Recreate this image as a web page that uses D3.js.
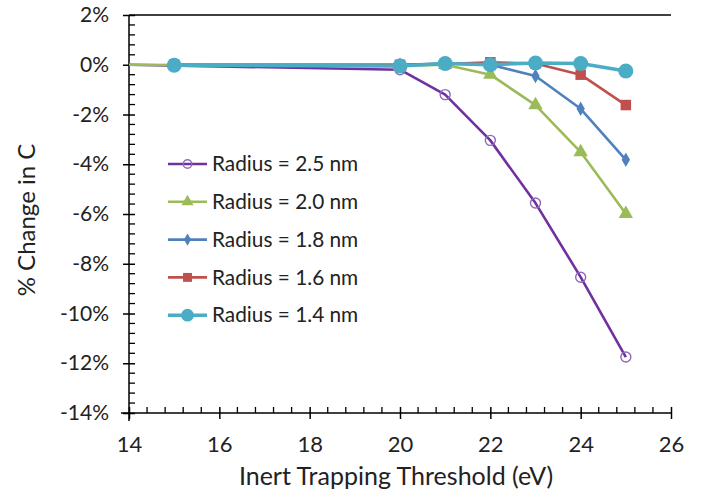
<!DOCTYPE html>
<html>
<head>
<meta charset="utf-8">
<script src="https://cdn.jsdelivr.net/npm/d3@7"></script>
<style>
  html, body { margin: 0; padding: 0; background: #fff; }
  svg text { font-family: Lato, "Open Sans", sans-serif; fill: #222; }
</style>
</head>
<body>
<svg id="chart" width="709" height="495"></svg>
<script>
// Inert trapping threshold (eV) for each series
const xWide   = [14, 20, 21, 22, 23, 24, 25];
const xNarrow = [15, 20, 21, 22, 23, 24, 25];

// % change in C for each cluster radius
const r25 = [0.00, -0.20, -1.20, -3.04, -5.56, -8.54, -11.75];
const r20 = [0.00, -0.05, 0.00, -0.40, -1.62, -3.51, -5.99];
const r18 = [0.00, 0.00, 0.05, 0.00, -0.45, -1.77, -3.82];
const r16 = [0.00, 0.00, 0.03, 0.10, 0.05, -0.40, -1.62];
const r14 = [-0.02, -0.05, 0.05, 0.00, 0.07, 0.05, -0.25];

const seriesNames = ["Radius = 2.5 nm", "Radius = 2.0 nm", "Radius = 1.8 nm", "Radius = 1.6 nm", "Radius = 1.4 nm"];

const xTicks = [14, 16, 18, 20, 22, 24, 26];
const yTicks = [2, 0, -2, -4, -6, -8, -10, -12, -14];

const series = [
  { name: seriesNames[0], xs: xWide,   ys: r25, color: "#7030A0", mark: "#8B6BB8", shape: "ring",     width: 2.6 },
  { name: seriesNames[1], xs: xWide,   ys: r20, color: "#9BBB59", mark: "#9BBB59", shape: "triangle", width: 2.6 },
  { name: seriesNames[2], xs: xNarrow, ys: r18, color: "#4F81BD", mark: "#4F81BD", shape: "diamond",  width: 2.6 },
  { name: seriesNames[3], xs: xNarrow, ys: r16, color: "#C0504D", mark: "#C0504D", shape: "square",   width: 2.6 },
  { name: seriesNames[4], xs: xNarrow, ys: r14, color: "#4BACC6", mark: "#4BACC6", shape: "dot",      width: 3.6 }
];

const svg = d3.select("#chart");
const plot = { left: 129, right: 671, top: 15, bottom: 413 };

const x = d3.scaleLinear().domain([14, 26]).range([plot.left, plot.right]);
const y = d3.scaleLinear().domain([-14, 2]).range([plot.bottom, plot.top]);

// top border of the plot area
svg.append("line")
  .attr("x1", plot.left).attr("x2", plot.right)
  .attr("y1", plot.top).attr("y2", plot.top)
  .attr("stroke", "#000").attr("stroke-width", 1.5);

// minor ticks (inside)
const xMinor = d3.range(14, 26.001, 0.4).filter(v => Math.abs(v / 2 - Math.round(v / 2)) > 0.01);
svg.append("g").selectAll("line").data(xMinor).join("line")
  .attr("x1", d => x(d)).attr("x2", d => x(d))
  .attr("y1", plot.bottom).attr("y2", plot.bottom - 6)
  .attr("stroke", "#000").attr("stroke-width", 1.3);

const yMinor = d3.range(-14, 2.001, 0.4).filter(v => Math.abs(v / 2 - Math.round(v / 2)) > 0.01);
svg.append("g").selectAll("line").data(yMinor).join("line")
  .attr("x1", plot.left).attr("x2", plot.left + 6)
  .attr("y1", d => y(d)).attr("y2", d => y(d))
  .attr("stroke", "#000").attr("stroke-width", 1.3);

// axes with crossing major ticks
const xAxis = svg.append("g")
  .attr("transform", `translate(0,${plot.bottom})`)
  .call(d3.axisBottom(x).tickValues(xTicks).tickSizeInner(6).tickSizeOuter(0).tickPadding(17).tickFormat(d3.format("d")));
xAxis.selectAll(".tick line").attr("y1", -6).attr("y2", 6);

const yAxis = svg.append("g")
  .attr("transform", `translate(${plot.left},0)`)
  .call(d3.axisLeft(y).tickValues(yTicks).tickSizeInner(6).tickSizeOuter(0).tickPadding(14).tickFormat(d => d + "%"));
yAxis.selectAll(".tick line").attr("x1", -6).attr("x2", 6);

[xAxis, yAxis].forEach(a => {
  a.select(".domain").attr("stroke", "#000").attr("stroke-width", 1.5);
  a.selectAll(".tick line").attr("stroke", "#000").attr("stroke-width", 1.5);
  a.selectAll(".tick text").attr("fill", "#222")
    .attr("font-family", "Lato, 'Open Sans', sans-serif");
});
xAxis.selectAll(".tick text").attr("font-size", 22);
yAxis.selectAll(".tick text").attr("font-size", 21);
xAxis.select(".domain").attr("d", `M${plot.left - 8},0H${plot.right}`);
yAxis.select(".domain").attr("d", `M0,${plot.top}V${plot.bottom + 8}`);

// axis titles
svg.append("text")
  .attr("x", 396).attr("y", 485)
  .attr("text-anchor", "middle").attr("font-size", 25)
  .text("Inert Trapping Threshold (eV)");

svg.append("text")
  .attr("transform", `translate(35,${(plot.top + plot.bottom) / 2 + 6}) rotate(-90)`)
  .attr("text-anchor", "middle").attr("font-size", 24)
  .text("% Change in C");

// marker shapes
function drawMarker(g, s, cx, cy, scale) {
  const k = scale || 1;
  if (s.shape === "ring") {
    g.append("circle").attr("cx", cx).attr("cy", cy).attr("r", 5 * k)
      .attr("fill", "#fff").attr("fill-opacity", 0).attr("stroke", s.mark).attr("stroke-width", 1.4);
  } else if (s.shape === "dot") {
    g.append("circle").attr("cx", cx).attr("cy", cy).attr("r", 7.5 * k).attr("fill", s.mark);
  } else {
    const sym = { triangle: d3.symbolTriangle, diamond: d3.symbolDiamond, square: d3.symbolSquare }[s.shape];
    const size = { triangle: 90, diamond: 60, square: 110 }[s.shape] * k * k;
    g.append("path").attr("d", d3.symbol(sym, size)())
      .attr("transform", `translate(${cx},${cy})`).attr("fill", s.mark);
  }
}

const line = d3.line().x(d => x(d[0])).y(d => y(d[1]));

series.forEach(s => {
  const pts = s.xs.map((v, i) => [v, s.ys[i]]);
  const g = svg.append("g");
  g.append("path").datum(pts).attr("d", line)
    .attr("fill", "none").attr("stroke", s.color).attr("stroke-width", s.width)
    .attr("stroke-linejoin", "round");
  // no marker where the series meets the vertical axis
  pts.filter(p => p[0] > x.domain()[0]).forEach(p => drawMarker(g, s, x(p[0]), y(p[1])));
});

// legend
const legend = svg.append("g");
series.forEach((s, i) => {
  const ly = 164 + i * 37.8;
  legend.append("line").attr("x1", 168).attr("x2", 207).attr("y1", ly).attr("y2", ly)
    .attr("stroke", s.color).attr("stroke-width", s.width);
  drawMarker(legend, s, 187.5, ly, 0.85);
  legend.append("text").attr("x", 212).attr("y", ly).attr("dy", "0.35em")
    .attr("font-size", 20.8).text(s.name);
});
</script>
</body>
</html>
